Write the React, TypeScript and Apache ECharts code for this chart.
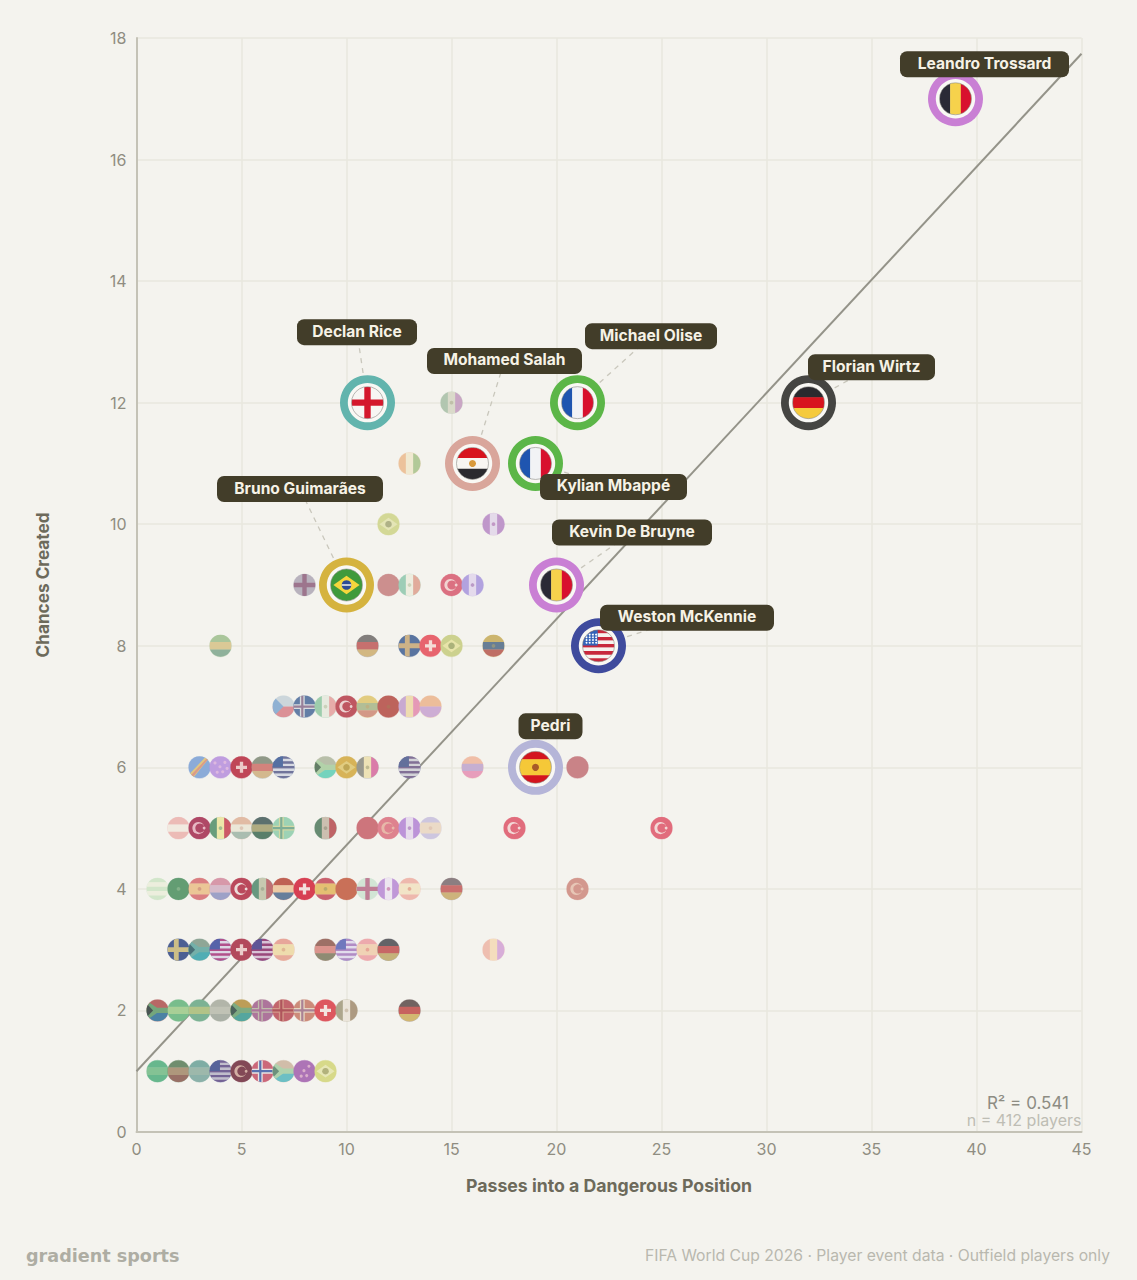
import React, { useEffect, useRef } from "react";
import * as echarts from "echarts";

const FONT = "Inter, 'Noto Sans', sans-serif";

// ---- data ----
type Row = [number, string][];
const chancesLevels = [1, 2, 3, 4, 5, 6, 7, 8, 9, 10, 11, 12];
const row1: Row = [[1, "grn1"], [2, "irn1"], [3, "teal1"], [4, "usa1"], [5, "tur1"], [6, "nor1"], [7, "rsa1"], [8, "aus1"], [9, "bra1"]];
const row2: Row = [[1, "rsa2"], [2, "grn2"], [3, "grn3"], [4, "gray1"], [5, "rsa3"], [6, "cross1"], [7, "nor2"], [8, "nor3"], [9, "sui1"], [10, "mex1"], [13, "ger1"]];
const row3: Row = [[2, "swe1"], [3, "rsa4"], [4, "usa2"], [5, "sui2"], [6, "usa3"], [7, "esp1"], [9, "ned1"], [10, "usa4"], [11, "esp2"], [12, "ger2"], [17, "rou1"]];
const row4: Row = [[1, "lgrn"], [2, "ksa"], [3, "esp3"], [4, "par"], [5, "tur2"], [6, "mex2"], [7, "ned2"], [8, "sui3"], [9, "esp4"], [10, "mar1"], [11, "cross2"], [12, "can1"], [13, "esp5"], [15, "ger3"], [21, "tur3"]];
const row5: Row = [[2, "aut"], [3, "tun"], [4, "sen"], [5, "cro"], [6, "irn2"], [7, "nor4"], [9, "mex3"], [11, "mar2"], [12, "por"], [13, "can2"], [14, "esp6"], [18, "tur4"], [25, "tur4"]];
const row6: Row = [[3, "cod"], [4, "aus2"], [5, "sui4"], [6, "ger4"], [7, "usa5"], [9, "rsa5"], [10, "bra2"], [11, "sen2"], [13, "usa6"], [16, "ned3"], [21, "mar3"]];
const row7: Row = [[7, "cze"], [8, "nor5"], [9, "mex4"], [10, "tur5"], [11, "ecu1"], [12, "mar4"], [13, "rou2"], [14, "ned4"]];
const row8: Row = [[4, "ecu2"], [11, "ger5"], [13, "nor6"], [14, "sui5"], [15, "bra3"], [17, "ecu3"]];
const row9: Row = [[8, "cross3"], [12, "mar5"], [13, "mex5"], [15, "tur6"], [16, "can3"]];
const row10: Row = [[12, "bra4"], [17, "can4"]];
const row11: Row = [[13, "irl"]];
const row12: Row = [[15, "mex6"]];
const allRows = [row1, row2, row3, row4, row5, row6, row7, row8, row9, row10, row11, row12];
const smallPasses: number[] = allRows.flatMap((r) => r.map((p) => p[0]));
const smallChances: number[] = allRows.flatMap((r, i) => r.map(() => chancesLevels[i]));
const smallFlags: string[] = allRows.flatMap((r) => r.map((p) => p[1]));

const playerNames = ["Leandro Trossard", "Florian Wirtz", "Declan Rice", "Mohamed Salah", "Michael Olise", "Kylian Mbappé", "Bruno Guimarães", "Kevin De Bruyne", "Weston McKennie", "Pedri"];
const playerPasses = [39, 32, 11, 16, 21, 19, 10, 20, 22, 19];
const playerChances = [17, 12, 12, 11, 12, 11, 9, 9, 8, 6];
const playerFlags = ["BEL", "GER", "ENG", "EGY", "FRA", "FRA", "BRA", "BEL", "USA", "ESP"];

const trendX = [0, 45];
const trendY = [1.0, 17.74];
const xTicks = { min: 0, max: 45, interval: 5 };
const yTicks = { min: 0, max: 18, interval: 2 };

// ---- styles and layout ----
const ringColors = ["#c97fd4", "#454542", "#62b4ad", "#d9a69b", "#5cb648", "#5cb648", "#d5b33f", "#c97fd4", "#3f4b9d", "#b5b5d8"];
const labelOffsets = [[29, -34.5], [63, -35.5], [-10.5, -70.5], [32, -102.5], [73.5, -66.5], [78, 23.5], [-46.5, -96], [75.5, -52.5], [88.5, -28], [15, -41]];
const labelWidths = [169, 127, 120, 155, 132, 147, 166, 160, 174, 64];

type Flag = { k: string; c: string[]; w?: number[]; m?: string; big?: boolean };
const h = (c: string[], m?: string, w?: number[]): Flag => ({ k: "h", c, m, w });
const v = (c: string[], m?: string): Flag => ({ k: "v", c, m });
const F: Record<string, Flag> = {
  grn1: h(["#4fae7f", "#72bc87", "#4fae7f"]),
  irn1: h(["#5a7d5a", "#a4886a", "#8a5a50"]),
  teal1: h(["#6aa39a", "#8fb0a3", "#7aa7a0"]),
  usa1: { k: "usa", c: ["#3b4a8e", "#5f4a88", "#b9b5c9"] },
  tur1: { k: "tur", c: ["#6f2a3d", "#d0a59a"] },
  nor1: { k: "nor", c: ["#c65068", "#e8e4e4", "#3f5ba8"] },
  rsa1: { k: "rsa", c: ["#cdb6a0", "#55b8c0", "#a5cfa5", "#55806a"] },
  aus1: { k: "aus", c: ["#a25fb0", "#d9a5c8"] },
  bra1: { k: "bra", c: ["#d4d77a", "#e8e8b0", "#a8a86a"] },
  rsa2: { k: "rsa", c: ["#b05050", "#2e6f9a", "#5f9a6a", "#2b3a3a"] },
  grn2: h(["#63b57e", "#9ccb8a", "#63b57e"]),
  grn3: h(["#68a887", "#a8bd78", "#68a887"]),
  gray1: h(["#a8aca0", "#b9bcaf", "#9fa69c"]),
  rsa3: { k: "rsa", c: ["#b5903f", "#3a9a93", "#6aa070", "#2f4a45"] },
  cross1: { k: "nor", c: ["#a2608f", "#b9b5a3", "#a2608f"] },
  nor2: { k: "nor", c: ["#bb4d57", "#d08a7a", "#a53a45"] },
  nor3: { k: "nor", c: ["#c87a68", "#e6d3bd", "#9f6f88"] },
  sui1: { k: "sui", c: ["#dc3c48", "#f6e4e2"] },
  mex1: v(["#a39a7e", "#ece5da", "#a38c70"], "#b09a80"),
  ger1: h(["#5b4a4a", "#c24a48", "#cfae5e"]),
  swe1: { k: "nor", c: ["#2f4686", "#c9b778", "#c9b778"] },
  rsa4: { k: "rsa", c: ["#7f9a8a", "#35a3ad", "#5fa6a0", "#2c5a66"] },
  usa2: { k: "usa", c: ["#3a4aa0", "#a8347c", "#dcd4e6"] },
  sui2: { k: "sui", c: ["#a92b45", "#ecc9c9"] },
  usa3: { k: "usa", c: ["#453a8a", "#8c2a6a", "#d6bcd4"] },
  esp1: h(["#e89a8e", "#f0dba5", "#e8a08e"], "#d08a70", [1, 2, 1]),
  ned1: h(["#8f5a50", "#d9857f", "#7f7a60"]),
  usa4: { k: "usa", c: ["#5a63b8", "#a77ac0", "#e2dbf0"] },
  esp2: h(["#ef9fa5", "#f2cfae", "#ef9fa5"], "#e07070", [1, 2, 1]),
  ger2: h(["#4a4a52", "#c24f50", "#bfa868"]),
  rou1: v(["#f0b7a8", "#f7dcb8", "#d5a3d8"]),
  lgrn: h(["#cfe6c8", "#eef0de", "#cfe6c8", "#eef0de", "#cfe6c8"]),
  ksa: h(["#4a8f60"], "#8fbb90"),
  esp3: h(["#d86a70", "#ecc08a", "#d86a70"], "#c06a60", [1, 2, 1]),
  par: h(["#d58aa0", "#d4b3c8", "#8f94c4"]),
  tur2: { k: "tur", c: ["#b22c45", "#eedada"] },
  mex2: v(["#4f8a6e", "#c2c4a8", "#b85a60"], "#7f8a70"),
  ned2: h(["#b8483a", "#efc59a", "#4f6a8f"]),
  sui3: { k: "sui", c: ["#d4213a", "#f6dede"] },
  esp4: h(["#c4485a", "#e4b85f", "#c4485a"], "#8a8a50", [1, 2, 1]),
  mar1: h(["#c45a40"]),
  cross2: { k: "cross", c: ["#cfe5d5", "#b86a88"] },
  can1: v(["#b98ad8", "#efe6f5", "#b98ad8"], "#b03a80"),
  esp5: h(["#f0b0a5", "#f5e4c4", "#f0b0a5"], "#d8705f", [1, 2, 1]),
  ger3: h(["#7a6a70", "#c55a5a", "#c9aa6a"]),
  tur3: { k: "tur", c: ["#d08a80", "#e8c0b0"] },
  aut: h(["#eeb3b0", "#f3ebe2", "#eeb3b0"]),
  tun: { k: "tur", c: ["#a52a50", "#e8b0c0"] },
  sen: v(["#4f8f6a", "#efe7a0", "#c83f50"], "#4f8f6a"),
  cro: h(["#e0b39a", "#ece8d8", "#9fb5a8"], "#d0a090"),
  irn2: h(["#425a5a", "#a5a070", "#3f6a55"]),
  nor4: { k: "nor", c: ["#8fcfae", "#d0d69a", "#6aa28a"] },
  mex3: v(["#4f7a5f", "#c8b8a8", "#b84a50"], "#7a7a60"),
  mar2: h(["#c9606a"]),
  por: { k: "tur", c: ["#dd6f80", "#e8b0a0"] },
  can2: v(["#b483d8", "#e8daf0", "#b483d8"], "#8a4aa8"),
  esp6: h(["#c9c0e0", "#ecd8c4", "#c9c0e0"], "#d8b0a0", [1, 2, 1]),
  tur4: { k: "tur", c: ["#e0556a", "#f6d6d6"] },
  cod: { k: "cod", c: ["#7aa0d8", "#d88c7a", "#e0c070"] },
  aus2: { k: "aus", c: ["#b890e0", "#dcb0e0"] },
  sui4: { k: "sui", c: ["#b8283f", "#ecc4c4"] },
  ger4: h(["#7f8a78", "#d0706a", "#d0b080"]),
  usa5: { k: "usa", c: ["#3a5a98", "#5a5f90", "#d4d8e4"] },
  rsa5: { k: "rsa", c: ["#b0b8a0", "#5fd0b8", "#a8cfa0", "#4a6a50"] },
  bra2: { k: "bra", c: ["#d4aa40", "#e0c870", "#b89a3c"] },
  sen2: v(["#8a8a80", "#efe2b0", "#d868a0"], "#8a8a60"),
  usa6: { k: "usa", c: ["#4a5a90", "#6f5a8a", "#d0d0d8"] },
  ned3: h(["#f2b79e", "#c0a5d0", "#e88fb5"]),
  mar3: h(["#c47078"]),
  cze: { k: "cze", c: ["#c7d3dc", "#d9808a", "#7fa7d2"] },
  nor5: { k: "nor", c: ["#4a6a9c", "#d6dbe0", "#8a6d8e"] },
  mex4: v(["#8fc9a4", "#e8ebe0", "#e7a0a0"], "#a8b890"),
  tur5: { k: "tur", c: ["#b83c4b", "#eed0d0"] },
  ecu1: h(["#e2c76f", "#a9b78a", "#d08a78"], "#c09a60"),
  mar4: h(["#b54b45"], "#9a6a40"),
  rou2: v(["#c39ed0", "#f0dba8", "#e58bb0"]),
  ned4: h(["#eeb58e", "#c9a3d3"]),
  ecu2: h(["#9fc08f", "#d8c48a", "#7fa78f"]),
  ger5: h(["#6f6a6a", "#c05a5a", "#cfae70"]),
  nor6: { k: "nor", c: ["#3f5f95", "#c8a878", "#c8a878"] },
  sui5: { k: "sui", c: ["#e84c5a", "#f8dcd8"] },
  bra3: { k: "bra", c: ["#c8cd80", "#e8e4a0", "#a0a868"] },
  ecu3: h(["#c8ac5a", "#4f6a88", "#b8584f"], "#a89a60"),
  cross3: { k: "cross", c: ["#b0a8b8", "#8f607f"] },
  mar5: h(["#c77f80"]),
  mex5: v(["#8fc9b0", "#efefe0", "#e0a090"], "#a8b890"),
  tur6: { k: "tur", c: ["#d95a70", "#f4d0d0"] },
  can3: v(["#a896e0", "#e4d8f0", "#a896e0"], "#8a50a0"),
  bra4: { k: "bra", c: ["#d0d68a", "#e4e5b0", "#a5a878"] },
  can4: v(["#b888c8", "#e4d8ee", "#b888c8"], "#9a4aa0"),
  irl: v(["#eebb90", "#f2ead0", "#a8c48c"]),
  mex6: v(["#a8c0a8", "#d8d8c8", "#c49ac0"], "#a0a080"),
  BEL: v(["#2a2a36", "#f6d24c", "#d8102e"]),
  GER: h(["#2a2a2e", "#d8141e", "#f5ca3c"]),
  ENG: { k: "cross", c: ["#f7f6f3", "#d4182c"] },
  EGY: h(["#d8141e", "#f8f6f2", "#2a2a2e"], "#d99a3c"),
  FRA: v(["#1f55b0", "#f2f3f5", "#d8102e"]),
  BRA: { k: "bra", c: ["#3f9a3c", "#f5d63c", "#2c4a96"] },
  USA: { k: "usa", c: ["#3463b8", "#c8283c", "#f6f2ee"] },
  ESP: h(["#d4141e", "#f5c838", "#d4141e"], "#a85a28", [1, 2, 1]),
};

const rect = (x: number, y: number, width: number, height: number, fill: string) => ({
  type: "rect", shape: { x, y, width, height }, style: { fill },
});
const circ = (cx: number, cy: number, r: number, style: any) => ({ type: "circle", shape: { cx, cy, r }, style });
const poly = (points: number[][], fill: string) => ({ type: "polygon", shape: { points }, style: { fill } });

function flagParts(f: Flag, cx: number, cy: number, r: number): any[] {
  const x0 = cx - r, y0 = cy - r, d = 2 * r;
  const p: any[] = [];
  const c = f.c;
  if (f.k === "h" || f.k === "v") {
    const w = f.w || c.map(() => 1);
    const sum = w.reduce((a, b) => a + b, 0);
    let t = 0;
    c.forEach((col, i) => {
      const a = (t / sum) * d, b = (w[i] / sum) * d;
      p.push(f.k === "h" ? rect(x0, y0 + a, d, b + 0.3, col) : rect(x0 + a, y0, b + 0.3, d, col));
      t += w[i];
    });
  } else if (f.k === "nor") {
    p.push(rect(x0, y0, d, d, c[0]));
    p.push(rect(x0, cy - 0.22 * r, d, 0.44 * r, c[1]));
    p.push(rect(cx - 0.42 * r, y0, 0.44 * r, d, c[1]));
    p.push(rect(x0, cy - 0.1 * r, d, 0.2 * r, c[2]));
    p.push(rect(cx - 0.3 * r, y0, 0.2 * r, d, c[2]));
  } else if (f.k === "cross") {
    p.push(rect(x0, y0, d, d, c[0]));
    p.push(rect(x0, cy - 0.2 * r, d, 0.4 * r, c[1]));
    p.push(rect(cx - 0.2 * r, y0, 0.4 * r, d, c[1]));
  } else if (f.k === "sui") {
    p.push(rect(x0, y0, d, d, c[0]));
    p.push(rect(cx - 0.5 * r, cy - 0.15 * r, 1 * r, 0.3 * r, c[1]));
    p.push(rect(cx - 0.15 * r, cy - 0.5 * r, 0.3 * r, 1 * r, c[1]));
  } else if (f.k === "tur") {
    p.push(rect(x0, y0, d, d, c[0]));
    p.push(circ(cx - 0.1 * r, cy, 0.55 * r, { fill: c[1] }));
    p.push(circ(cx + 0.04 * r, cy, 0.42 * r, { fill: c[0] }));
    p.push(circ(cx + 0.42 * r, cy, 0.13 * r, { fill: c[1] }));
  } else if (f.k === "rsa") {
    p.push(rect(x0, y0, d, r, c[0]));
    p.push(rect(x0, cy, d, r, c[1]));
    p.push(rect(x0, cy - 0.24 * r, d, 0.48 * r, c[2]));
    p.push(poly([[x0, y0 + 0.1 * r], [cx - 0.05 * r, cy - 0.24 * r], [cx - 0.05 * r, cy + 0.24 * r], [x0, cy + 0.9 * r]], c[2]));
    p.push(poly([[x0, cy - 0.62 * r], [cx - 0.4 * r, cy], [x0, cy + 0.62 * r]], c[3]));
  } else if (f.k === "usa") {
    for (let i = 0; i < 9; i++) p.push(rect(x0, y0 + (i * d) / 9, d, d / 9 + 0.3, i % 2 ? c[2] : c[1]));
    p.push(rect(x0, y0, r * 0.95, r * 0.98, c[0]));
    if (r > 12) {
      for (let a = 0; a < 4; a++) for (let b = 0; b < 4; b++) {
        p.push(circ(x0 + r * 0.25 + a * r * 0.2, y0 + r * 0.3 + b * r * 0.17, 0.05 * r + 0.15, { fill: "#ffffff" }));
      }
    }
  } else if (f.k === "bra") {
    p.push(rect(x0, y0, d, d, c[0]));
    p.push(poly([[cx - 0.82 * r, cy], [cx, cy - 0.58 * r], [cx + 0.82 * r, cy], [cx, cy + 0.58 * r]], c[1]));
    p.push(circ(cx, cy, 0.3 * r, { fill: c[2] }));
    if (r > 12) p.push(rect(cx - 0.3 * r, cy - 0.04 * r, 0.6 * r, 0.08 * r, "#f2f2ea"));
  } else if (f.k === "aus") {
    p.push(rect(x0, y0, d, d, c[0]));
    [[-0.5, -0.4], [0.4, -0.45], [0.6, 0.1], [0.2, 0.4], [-0.3, 0.45], [-0.05, -0.05]].forEach(([a, b]) => {
      p.push(circ(cx + a * r, cy + b * r, 0.14 * r, { fill: c[1] }));
    });
  } else if (f.k === "cod") {
    p.push(rect(x0, y0, d, d, c[0]));
    p.push(poly([[x0, cy + 0.7 * r], [cx + 0.6 * r, y0], [cx + r, y0], [x0 + 0.4 * r, y0 + d], [x0, y0 + d]], c[2]));
    p.push(poly([[x0, cy + 0.95 * r], [cx + 0.85 * r, y0], [cx + r, y0], [cx - 0.7 * r, y0 + d], [x0, y0 + d]], c[1]));
  } else if (f.k === "cze") {
    p.push(rect(x0, y0, d, r, c[0]));
    p.push(rect(x0, cy, d, r, c[1]));
    p.push(poly([[x0, y0], [cx, cy], [x0, y0 + d]], c[2]));
  }
  if (f.m) {
    p.push(circ(cx, cy, r > 12 ? 0.22 * r : 0.17 * r, { fill: f.m, opacity: r > 12 ? 1 : 0.55 }));
  }
  return p;
}

function flagGroup(code: string, cx: number, cy: number, r: number) {
  return {
    type: "group",
    clipPath: { type: "circle", shape: { cx, cy, r } },
    children: flagParts(F[code], cx, cy, r),
  };
}

const SMALL_R = 11;

export default function App() {
  const ref = useRef<HTMLDivElement>(null);
  useEffect(() => {
    const chart = echarts.init(ref.current!, null, { renderer: "svg" });
    chart.setOption({
      animation: false,
      backgroundColor: "#f4f3ee",
      textStyle: { fontFamily: FONT },
      grid: { left: 136.5, right: 55.5, top: 38, height: 1094, containLabel: false },
      xAxis: {
        type: "value", ...xTicks,
        name: "Passes into a Dangerous Position",
        nameLocation: "middle", nameGap: 44,
        nameTextStyle: { fontFamily: FONT, fontSize: 17.7, fontWeight: 700, color: "#6d6a5b" },
        axisLine: { show: true, onZero: false, lineStyle: { color: "#c4c2b6", width: 2 } },
        axisTick: { show: false },
        axisLabel: { fontFamily: FONT, fontSize: 16, color: "#8f8d81", margin: 9 },
        splitLine: { show: true, lineStyle: { color: "#e8e7de", width: 1.5 } },
      },
      yAxis: {
        type: "value", ...yTicks,
        name: "Chances Created",
        nameLocation: "middle", nameGap: 86,
        nameTextStyle: { fontFamily: FONT, fontSize: 17.2, fontWeight: 700, color: "#6d6a5b" },
        axisLine: { show: true, onZero: false, lineStyle: { color: "#c4c2b6", width: 2 } },
        axisTick: { show: false },
        axisLabel: { fontFamily: FONT, fontSize: 16, color: "#8f8d81", margin: 10 },
        splitLine: { show: true, lineStyle: { color: "#e8e7de", width: 1.5 } },
      },
      graphic: [
        { type: "text", right: 68, top: 1094, style: { text: "R² = 0.541", font: `400 17px ${FONT}`, fill: "#8d8c83" } },
        { type: "text", right: 55.5, top: 1112, style: { text: "n = 412 players", font: `400 16px ${FONT}`, fill: "#bebdb4" } },
        { type: "text", left: 26, top: 1247, style: { text: "gradient sports", font: "700 17.6px 'DejaVu Sans', sans-serif", fill: "#aeada3" } },
        { type: "text", right: 27, top: 1247, style: { text: "FIFA World Cup 2026 · Player event data · Outfield players only", font: `400 15.7px ${FONT}`, fill: "#b9b8ae" } },
      ],
      series: [
        {
          type: "line", z: 1, silent: true, symbol: "none",
          data: trendX.map((x, i) => [x, trendY[i]]),
          lineStyle: { color: "#949389", width: 2 },
        },
        {
          type: "custom", z: 2, silent: true, clip: false,
          data: smallPasses.map((x, i) => [x, smallChances[i]]),
          encode: { x: 0, y: 1 },
          renderItem: (params: any, api: any) => {
            const [cx, cy] = api.coord([api.value(0), api.value(1)]);
            const code = smallFlags[params.dataIndex];
            return {
              type: "group",
              children: [
                circ(cx, cy, SMALL_R + 0.4, { fill: F[code].c[0], opacity: 0.35 }),
                flagGroup(code, cx, cy, SMALL_R),
                circ(cx, cy, SMALL_R, { fill: "#e9e6dc", opacity: 0.16 }),
              ],
            };
          },
        },
        {
          type: "custom", z: 3, silent: true, clip: false,
          data: playerPasses.map((x, i) => [x, playerChances[i]]),
          encode: { x: 0, y: 1 },
          renderItem: (params: any, api: any) => {
            const [cx, cy] = api.coord([api.value(0), api.value(1)]);
            const [dx, dy] = labelOffsets[params.dataIndex];
            return {
              type: "line",
              shape: { x1: cx, y1: cy, x2: cx + dx, y2: cy + dy },
              style: { stroke: "#c9c7bc", lineWidth: 1.3, lineDash: [5, 5], fill: "none" },
            };
          },
        },
        {
          type: "custom", z: 4, silent: true, clip: false,
          data: playerPasses.map((x, i) => [x, playerChances[i]]),
          encode: { x: 0, y: 1 },
          renderItem: (params: any, api: any) => {
            const [cx, cy] = api.coord([api.value(0), api.value(1)]);
            const i = params.dataIndex;
            return {
              type: "group",
              children: [
                circ(cx, cy, 27.5, { fill: ringColors[i] }),
                circ(cx, cy, 19.7, { fill: "#f9f8f4" }),
                flagGroup(playerFlags[i], cx, cy, 16),
                circ(cx, cy, 16, { fill: "none", stroke: "#8a8a84", lineWidth: 0.6 }),
              ],
            };
          },
        },
        {
          type: "custom", z: 5, silent: true, clip: false,
          data: playerPasses.map((x, i) => [x, playerChances[i]]),
          encode: { x: 0, y: 1 },
          renderItem: (params: any, api: any) => {
            const [cx, cy] = api.coord([api.value(0), api.value(1)]);
            const i = params.dataIndex;
            const [dx, dy] = labelOffsets[i];
            const w = labelWidths[i], hh = 26;
            return {
              type: "group",
              children: [
                {
                  type: "rect",
                  shape: { x: cx + dx - w / 2, y: cy + dy - hh / 2, width: w, height: hh, r: 7 },
                  style: { fill: "#423d29" },
                },
                {
                  type: "text",
                  x: cx + dx, y: cy + dy - 1,
                  style: {
                    text: playerNames[i], fill: "#f6f2e6",
                    font: `700 15.6px ${FONT}`, align: "center", verticalAlign: "middle",
                  },
                },
              ],
            };
          },
        },
      ],
    });
    return () => chart.dispose();
  }, []);
  return (
    <div
      ref={ref}
      style={{ position: "absolute", left: 0, top: 0, width: 1137, height: 1280, background: "#f4f3ee" }}
    />
  );
}
